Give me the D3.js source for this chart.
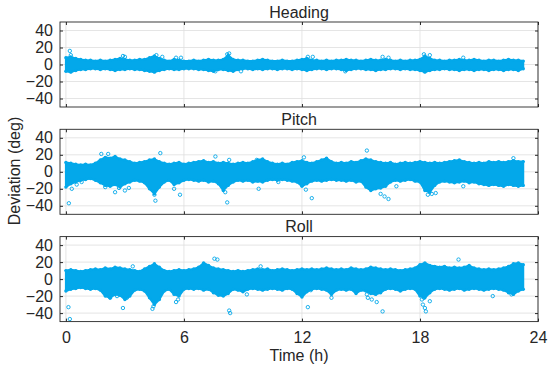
<!DOCTYPE html>
<html>
<head>
<meta charset="utf-8">
<script src="https://cdn.jsdelivr.net/npm/d3@7"></script>
<style>
body { margin: 0; background: #fff; }
text { font-family: "Liberation Sans", Arial, sans-serif; fill: #262626; }
</style>
</head>
<body>
<div id="chart"></div>
<script>
// sample times of the band envelope (h)
var hours = [
  0, 0.25, 0.5, 0.75, 1, 1.25, 1.5, 1.75,
  2, 2.25, 2.5, 2.75, 3, 3.25, 3.5, 3.75,
  4, 4.25, 4.5, 4.75, 5, 5.25, 5.5, 5.75,
  6, 6.25, 6.5, 6.75, 7, 7.25, 7.5, 7.75,
  8, 8.25, 8.5, 8.75, 9, 9.25, 9.5, 9.75,
  10, 10.25, 10.5, 10.75, 11, 11.25, 11.5, 11.75,
  12, 12.25, 12.5, 12.75, 13, 13.25, 13.5, 13.75,
  14, 14.25, 14.5, 14.75, 15, 15.25, 15.5, 15.75,
  16, 16.25, 16.5, 16.75, 17, 17.25, 17.5, 17.75,
  18, 18.25, 18.5, 18.75, 19, 19.25, 19.5, 19.75,
  20, 20.25, 20.5, 20.75, 21, 21.25, 21.5, 21.75,
  22, 22.25, 22.5, 22.75, 23, 23.25];

// Heading
var headingUpper = [
  8, 9, 7, 6, 5, 5, 4, 5,
  4, 5, 6, 7, 6, 5, 5, 6,
  6, 8, 10, 7, 5, 4, 6, 5,
  4, 4, 5, 4, 5, 6, 5, 5,
  6, 11, 6, 5, 5, 4, 4, 5,
  6, 5, 4, 4, 5, 4, 4, 5,
  6, 7, 5, 5, 4, 5, 4, 5,
  5, 6, 5, 5, 4, 5, 6, 5,
  5, 6, 5, 4, 5, 4, 5, 5,
  6, 10, 7, 5, 5, 4, 5, 5,
  6, 5, 5, 6, 5, 4, 5, 5,
  4, 5, 6, 5, 5, 4];
var headingLower = [
  -8, -9, -7, -6, -6, -5, -5, -6,
  -5, -6, -7, -6, -6, -5, -6, -6,
  -7, -8, -9, -7, -6, -5, -6, -6,
  -5, -5, -5, -6, -6, -7, -8, -6,
  -6, -7, -8, -6, -5, -5, -6, -5,
  -6, -5, -5, -6, -5, -5, -6, -5,
  -6, -7, -6, -5, -5, -6, -5, -5,
  -6, -7, -6, -5, -5, -6, -6, -7,
  -6, -6, -5, -5, -6, -5, -6, -6,
  -7, -9, -7, -6, -6, -5, -6, -6,
  -7, -6, -6, -7, -6, -6, -7, -6,
  -6, -7, -6, -6, -7, -5];
var headingOutTime = [0.2, 0.25, 2.9, 3.0, 4.6, 4.9, 5.6, 5.85, 7.6, 8.2, 8.3, 8.9, 12.3, 12.55, 14.2, 16.1, 16.4, 18.2, 18.5, 20.2];
var headingOutDev  = [16, 11, 10, 9, 11, 9, 8, 8, -8, 12, 13, -8, 9, 9, -8, 9, 8, 12, 11, 8];

// Pitch
var pitchUpper = [
  11, 10, 9, 8, 9, 8, 10, 14,
  17, 16, 18, 15, 14, 12, 10, 11,
  12, 14, 15, 12, 10, 9, 10, 11,
  9, 10, 11, 12, 13, 11, 12, 10,
  11, 10, 9, 10, 11, 10, 12, 14,
  15, 12, 10, 9, 10, 9, 11, 12,
  13, 11, 10, 12, 14, 16, 12, 10,
  11, 10, 12, 11, 13, 15, 14, 12,
  11, 10, 11, 9, 10, 11, 10, 11,
  12, 11, 10, 11, 10, 11, 12, 13,
  14, 12, 11, 10, 11, 10, 12, 11,
  12, 11, 12, 13, 12, 12];
var pitchLower = [
  -18, -14, -12, -10, -9, -8, -10, -13,
  -16, -17, -15, -18, -14, -12, -10, -11,
  -13, -20, -26, -18, -12, -10, -15, -13,
  -10, -9, -10, -11, -10, -12, -11, -14,
  -22, -16, -12, -10, -11, -10, -12, -11,
  -12, -10, -9, -10, -9, -10, -11, -12,
  -17, -14, -11, -10, -11, -10, -9, -10,
  -10, -11, -10, -12, -11, -18, -22, -20,
  -19, -17, -12, -10, -11, -10, -9, -11,
  -12, -22, -24, -16, -12, -11, -12, -13,
  -12, -11, -13, -12, -14, -15, -16, -15,
  -16, -17, -15, -16, -17, -16];
var pitchOutTime = [0.15, 0.3, 0.55, 0.8, 1.8, 2.0, 2.15, 2.5, 2.7, 3.0, 3.2, 4.5, 4.55, 4.8, 5.5, 5.8, 7.6, 8.1, 8.2, 8.3, 9.7, 9.8, 10.8, 12.1, 12.2, 12.5, 15.3, 16.0, 16.2, 16.4, 16.8, 18.4, 18.6, 18.8, 20.2, 22.75];
var pitchOutDev  = [-37, -20, -15, -12, 21, -18, 21, -24, -19, -22, -19, -27, -34, 22, -20, -27, 18, -24, -36, 14, 14, -20, -12, 17, -21, -31, 25, -26, -29, -32, -17, -27, -26, -25, -17, 16];

// Roll
var rollUpper = [
  10, 11, 10, 9, 10, 11, 12, 11,
  13, 12, 14, 13, 12, 11, 10, 9,
  12, 15, 18, 14, 10, 9, 10, 11,
  10, 11, 12, 14, 19, 16, 13, 12,
  11, 10, 9, 10, 9, 10, 11, 12,
  11, 12, 10, 11, 12, 11, 10, 11,
  12, 11, 12, 11, 12, 13, 12, 11,
  12, 11, 13, 12, 11, 12, 14, 13,
  12, 11, 12, 11, 10, 11, 12, 13,
  17, 19, 16, 15, 14, 15, 13, 14,
  13, 14, 16, 13, 12, 11, 12, 11,
  12, 13, 15, 18, 19, 17];
var rollLower = [
  -14, -12, -11, -10, -11, -12, -11, -13,
  -20, -22, -18, -19, -24, -20, -13, -12,
  -14, -22, -30, -24, -14, -12, -18, -20,
  -12, -11, -12, -11, -13, -12, -16, -19,
  -20, -17, -12, -13, -15, -12, -11, -12,
  -13, -12, -11, -12, -13, -11, -12, -17,
  -21, -15, -12, -11, -12, -13, -18, -13,
  -12, -13, -12, -17, -13, -14, -17, -18,
  -16, -12, -11, -12, -14, -12, -11, -12,
  -20, -22, -16, -12, -11, -12, -13, -12,
  -11, -13, -12, -11, -12, -13, -12, -11,
  -12, -13, -16, -18, -14, -12];
var rollOutTime = [0.13, 0.2, 2.25, 2.6, 2.9, 3.1, 3.4, 4.4, 4.45, 5.6, 5.7, 7.55, 7.7, 8.3, 8.35, 9.2, 9.9, 12.3, 12.45, 13.5, 15.3, 15.35, 15.55, 15.8, 16.1, 18.1, 18.15, 18.2, 18.25, 18.3, 18.5, 19.96, 21.7, 22.65];
var rollOutDev  = [-33, -47, -22, -20, -34, -22, 15, -35, -32, -27, -24, 24, 23, -37, -40, -18, 15, -33, -13, -22, -18, -22, -24, -27, -38, -24, -30, -22, -34, -38, -26, 23, -20, -18];

var xTicks = [0, 6, 12, 18, 24];
var yTicks = [-40, -20, 0, 20, 40];

var width = 550, height = 370;
var left = 60, right = 538;
var panelTop = [22, 129.3, 236.6];
var panelH = 85;
var color = "#03A8EA";

var panels = [
  {title: "Heading", up: headingUpper, lo: headingLower, ot: headingOutTime, ov: headingOutDev},
  {title: "Pitch", up: pitchUpper, lo: pitchLower, ot: pitchOutTime, ov: pitchOutDev},
  {title: "Roll", up: rollUpper, lo: rollLower, ot: rollOutTime, ov: rollOutDev}
];

var svg = d3.select("#chart").append("svg")
  .attr("width", width)
  .attr("height", height);

var x = d3.scaleLinear().domain([-0.3, 24]).range([left, right]);

panels.forEach(function(p, i) {
  var top = panelTop[i];
  var y = d3.scaleLinear().domain([-50, 50]).range([top + panelH, top]);
  var g = svg.append("g");

  g.append("clipPath").attr("id", "clip" + i)
    .append("rect").attr("x", left).attr("y", top).attr("width", right - left).attr("height", panelH);

  // grid
  g.selectAll(".gx").data(xTicks).join("line")
    .attr("x1", d => x(d)).attr("x2", d => x(d))
    .attr("y1", top).attr("y2", top + panelH)
    .attr("stroke", "#dedede").attr("stroke-width", 0.8);
  g.selectAll(".gy").data(yTicks).join("line")
    .attr("x1", left).attr("x2", right)
    .attr("y1", d => y(d)).attr("y2", d => y(d))
    .attr("stroke", "#dedede").attr("stroke-width", 0.8);

  var data = hours.map((h, k) => ({h: h, up: p.up[k], lo: p.lo[k]}));
  var plot = g.append("g").attr("clip-path", "url(#clip" + i + ")");

  // dense band of samples
  var area = d3.area()
    .x(d => x(d.h))
    .y0(d => y(d.lo))
    .y1(d => y(d.up));
  plot.append("path").datum(data)
    .attr("d", area)
    .attr("fill", color)
    .attr("stroke", color)
    .attr("stroke-width", 2)
    .attr("stroke-linejoin", "round");

  plot.selectAll(".eu").data(data).join("circle")
    .attr("cx", d => x(d.h)).attr("cy", d => y(d.up)).attr("r", 1.7)
    .attr("fill", color);
  plot.selectAll(".el").data(data).join("circle")
    .attr("cx", d => x(d.h)).attr("cy", d => y(d.lo)).attr("r", 1.7)
    .attr("fill", color);

  // scattered outliers
  plot.selectAll(".out").data(p.ot).join("circle")
    .attr("cx", d => x(d)).attr("cy", (d, k) => y(p.ov[k])).attr("r", 1.7)
    .attr("fill", "none").attr("stroke", color).attr("stroke-width", 0.9);

  // axes with inward ticks
  g.append("g").attr("transform", "translate(" + left + ",0)")
    .call(d3.axisLeft(y).tickValues(yTicks).tickSize(-3).tickPadding(7));
  g.append("g").attr("transform", "translate(" + right + ",0)")
    .call(d3.axisRight(y).tickValues(yTicks).tickSize(-3).tickFormat(""));
  g.append("g").attr("transform", "translate(0," + top + ")")
    .call(d3.axisTop(x).tickValues(xTicks).tickSize(-3).tickFormat(""));
  g.append("g").attr("transform", "translate(0," + (top + panelH) + ")")
    .call(d3.axisBottom(x).tickValues(xTicks).tickSize(-3).tickPadding(10)
      .tickFormat(i == 2 ? d3.format("d") : ""));

  g.selectAll(".domain").remove();
  g.selectAll(".tick line").attr("stroke", "#262626");
  g.selectAll(".tick text").style("font-size", "16px").attr("fill", "#262626");

  g.append("rect")
    .attr("x", left).attr("y", top)
    .attr("width", right - left).attr("height", panelH)
    .attr("fill", "none").attr("stroke", "#262626").attr("stroke-width", 0.9);

  g.append("text")
    .attr("x", 299).attr("y", top - 4.5)
    .attr("text-anchor", "middle")
    .style("font-size", "16px")
    .text(p.title);
});

svg.append("text")
  .attr("x", 299).attr("y", 361)
  .attr("text-anchor", "middle")
  .style("font-size", "16px")
  .text("Time (h)");

svg.append("text")
  .attr("transform", "translate(20,171) rotate(-90)")
  .attr("text-anchor", "middle")
  .style("font-size", "16px")
  .text("Deviation (deg)");
</script>
</body>
</html>
